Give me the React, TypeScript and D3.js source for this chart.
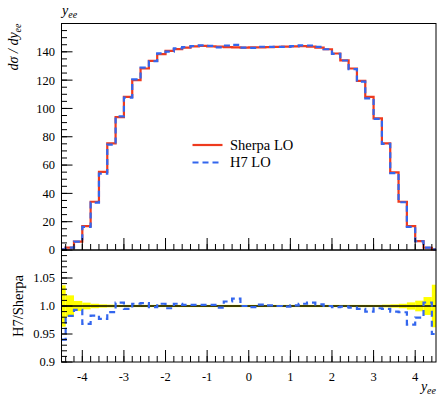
import React from 'react';
import * as d3 from 'd3';

const binEdges = [-4.5, -4.4, -4.2, -4.0, -3.8, -3.6, -3.4, -3.2, -3.0, -2.8, -2.6, -2.4, -2.2, -2.0, -1.8, -1.6, -1.4, -1.2, -1.0, -0.8, -0.6, -0.4, -0.2, 0.0, 0.2, 0.4, 0.6, 0.8, 1.0, 1.2, 1.4, 1.6, 1.8, 2.0, 2.2, 2.4, 2.6, 2.8, 3.0, 3.2, 3.4, 3.6, 3.8, 4.0, 4.2, 4.4, 4.5];

const sherpaLO = [0.5, 1.7, 5.9, 16.9, 34.1, 55.2, 75.3, 93.8, 108.2, 120.0, 128.2, 133.6, 138.3, 140.7, 141.9, 143.0, 143.8, 144.2, 143.9, 143.6, 143.3, 143.1, 143.0, 143.1, 143.2, 143.3, 143.5, 143.6, 143.9, 144.0, 143.6, 143.0, 141.8, 138.8, 134.0, 128.2, 119.5, 108.2, 93.0, 75.3, 54.8, 34.1, 16.9, 6.3, 1.6, 0.4];

const h7LO = [0.47, 1.67, 5.86, 16.36, 33.52, 53.93, 74.47, 94.36, 107.66, 120.48, 128.84, 133.33, 138.85, 140.14, 142.47, 143.29, 144.09, 144.49, 144.19, 143.17, 144.45, 144.96, 143.0, 142.81, 143.56, 143.44, 143.5, 143.46, 144.04, 144.58, 144.46, 143.43, 141.8, 138.52, 133.87, 127.82, 118.9, 107.12, 92.63, 74.92, 54.25, 33.72, 16.34, 6.17, 1.61, 0.38];

const sherpaRelErr = [0.037, 0.019, 0.009, 0.006, 0.004, 0.003, 0.0025, 0.002, 0.002, 0.002, 0.002, 0.002, 0.002, 0.002, 0.002, 0.002, 0.002, 0.002, 0.002, 0.002, 0.002, 0.002, 0.002, 0.002, 0.002, 0.002, 0.002, 0.002, 0.002, 0.002, 0.002, 0.002, 0.002, 0.002, 0.002, 0.002, 0.002, 0.002, 0.002, 0.0025, 0.003, 0.004, 0.0065, 0.0095, 0.016, 0.038];

const xMajorTicks = [-4, -3, -2, -1, 0, 1, 2, 3, 4];
const xTickLabels = ['-4', '-3', '-2', '-1', '0', '1', '2', '3', '4'];
const yMainTicks = [0, 20, 40, 60, 80, 100, 120, 140];
const yRatioTicks = [0.9, 0.95, 1.0, 1.05];
const yRatioLabels = ['0.9', '0.95', '1.0', '1.05'];

const FONT = '"Liberation Serif", "DejaVu Serif", serif';
const RED = '#EE3A1E';
const BLUE = '#3366EE';

export default function App() {
  const x = d3.scaleLinear().domain([-4.5, 4.5]).range([61.5, 436]);
  const yTop = d3.scaleLinear().domain([0, 160]).range([250, 23.5]);
  const yRat = d3.scaleLinear().domain([0.9, 1.1]).range([362, 250]);

  const stepLine = (vals: number[], y: d3.ScaleLinear<number, number>) => {
    const pts: [number, number][] = vals.map((v, i) => [binEdges[i], v]);
    pts.push([binEdges[binEdges.length - 1], vals[vals.length - 1]]);
    return d3.line<[number, number]>().x(d => x(d[0])).y(d => y(d[1])).curve(d3.curveStepAfter)(pts) || '';
  };

  const ratio = h7LO.map((v, i) => v / sherpaLO[i]);
  const ones = sherpaLO.map(() => 1);

  const xMinor = d3.range(-4.4, 4.41, 0.2).map(v => Math.round(v * 10) / 10);
  const yTopMinor = d3.range(0, 160, 5);
  const yRatMinor = d3.range(0.9, 1.1, 0.01).map(v => Math.round(v * 100) / 100);

  const L = 61.5, R = 436;
  const ts = { fontFamily: FONT };

  const xTicks = (y0: number) => (
    <g>
      {xMinor.map((v, i) => (
        <line key={'m' + i} x1={x(v)} x2={x(v)} y1={y0} y2={y0 - 6} stroke="#000" strokeWidth={1} />
      ))}
      {xMajorTicks.map((v, i) => (
        <line key={'M' + i} x1={x(v)} x2={x(v)} y1={y0} y2={y0 - 12} stroke="#000" strokeWidth={1} />
      ))}
    </g>
  );

  return (
    <svg width={437} height={396} style={{ position: 'absolute', left: 0, top: 0, background: '#fff', fontFamily: FONT }}>
      <rect x={0} y={0} width={437} height={396} fill="#fff" />
      {/* Top panel */}
      <path d={stepLine(sherpaLO, yTop)} fill="none" stroke={RED} strokeWidth={2.2} />
      <path d={stepLine(h7LO, yTop)} fill="none" stroke={BLUE} strokeWidth={2.2} strokeDasharray="6,4" />
      <rect x={L} y={23.5} width={R - L} height={250 - 23.5} fill="none" stroke="#000" strokeWidth={1} />
      {xTicks(250)}
      {yTopMinor.map((v, i) => (
        <line key={'ytm' + i} x1={L} x2={L + 5.5} y1={yTop(v)} y2={yTop(v)} stroke="#000" strokeWidth={1} />
      ))}
      {yMainTicks.map((v, i) => (
        <g key={'ytM' + i}>
          <line x1={L} x2={L + 11} y1={yTop(v)} y2={yTop(v)} stroke="#000" strokeWidth={1} />
          <text style={ts} x={55} y={yTop(v)} dy="0.35em" textAnchor="end" fontSize={12.5}>{v}</text>
        </g>
      ))}
      <text style={ts} x={62} y={15} fontSize={14} fontStyle="italic">y<tspan fontSize={10} dy={3}>ee</tspan></text>
      <text style={ts} transform="translate(18,23.5) rotate(-90)" textAnchor="end" fontSize={14} fontStyle="italic">
        dσ / dy<tspan fontSize={10} dy={3}>ee</tspan>
      </text>

      {/* Legend */}
      <line x1={192.5} x2={222.5} y1={145} y2={145} stroke={RED} strokeWidth={2.2} />
      <text style={ts} x={230} y={149.5} fontSize={14.5}>Sherpa LO</text>
      <line x1={192.5} x2={222.5} y1={162.5} y2={162.5} stroke={BLUE} strokeWidth={2.2} strokeDasharray="6,4" />
      <text style={ts} x={230} y={166.5} fontSize={14.5}>H7 LO</text>

      {/* Ratio panel */}
      {sherpaRelErr.map((e, i) => (
        <rect key={'band' + i} x={x(binEdges[i])} width={x(binEdges[i + 1]) - x(binEdges[i])}
          y={yRat(1 + e)} height={yRat(1 - e) - yRat(1 + e)} fill="#FFFF00" />
      ))}
      <path d={stepLine(ones, yRat)} fill="none" stroke="#000" strokeWidth={1.4} />
      <path d={stepLine(ratio, yRat)} fill="none" stroke={BLUE} strokeWidth={2.2} strokeDasharray="6,4" />
      <rect x={L} y={250} width={R - L} height={112} fill="none" stroke="#000" strokeWidth={1} />
      {xTicks(362)}
      {yRatMinor.map((v, i) => (
        <line key={'yrm' + i} x1={L} x2={L + 5.5} y1={yRat(v)} y2={yRat(v)} stroke="#000" strokeWidth={1} />
      ))}
      {yRatioTicks.map((v, i) => (
        <g key={'yrM' + i}>
          <line x1={L} x2={L + 11} y1={yRat(v)} y2={yRat(v)} stroke="#000" strokeWidth={1} />
          <text style={ts} x={55} y={yRat(v)} dy="0.35em" textAnchor="end" fontSize={12.5}>{yRatioLabels[i]}</text>
        </g>
      ))}
      {xMajorTicks.map((v, i) => (
        <text style={ts} key={'xl' + i} x={x(v)} y={381} textAnchor="middle" fontSize={12.5}>{xTickLabels[i]}</text>
      ))}
      <text style={ts} transform="translate(22.5,306) rotate(-90)" textAnchor="middle" fontSize={14.5}>H7/Sherpa</text>
      <text style={ts} x={436} y={391} textAnchor="end" fontSize={14} fontStyle="italic">y<tspan fontSize={10} dy={3}>ee</tspan></text>
    </svg>
  );
}
